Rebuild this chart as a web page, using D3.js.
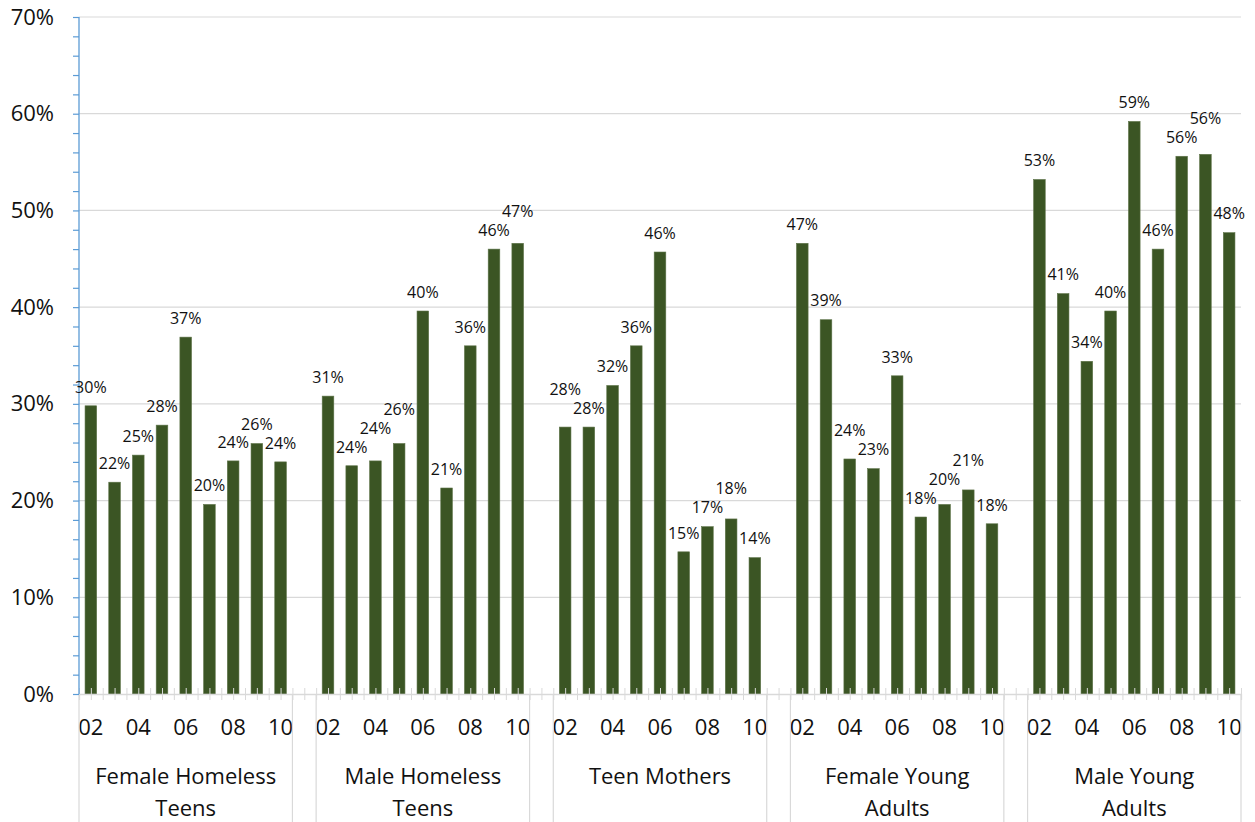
<!DOCTYPE html>
<html>
<head>
<meta charset="utf-8">
<script src="https://cdn.jsdelivr.net/npm/d3@7"></script>
<style>
  html, body { margin: 0; padding: 0; background: #fff; }
  svg { display: block; font-family: "Open Sans", "Noto Sans", sans-serif; }
</style>
</head>
<body>
<svg id="chart" width="1255" height="822"></svg>
<script>
// Year labels (2002–2010) shared by every group
const years = ["02", "03", "04", "05", "06", "07", "08", "09", "10"];

// Group names; "\n" marks the line break in the category label
const groupNames = [
  "Female Homeless\nTeens",
  "Male Homeless\nTeens",
  "Teen Mothers",
  "Female Young\nAdults",
  "Male Young\nAdults"
];

// Share per year, one array per group
const femaleHomelessTeens = [0.298, 0.219, 0.247, 0.278, 0.369, 0.196, 0.241, 0.259, 0.240];
const maleHomelessTeens   = [0.308, 0.236, 0.241, 0.259, 0.396, 0.213, 0.360, 0.460, 0.466];
const teenMothers         = [0.276, 0.276, 0.319, 0.360, 0.457, 0.147, 0.173, 0.181, 0.141];
const femaleYoungAdults   = [0.466, 0.387, 0.243, 0.233, 0.329, 0.183, 0.196, 0.211, 0.176];
const maleYoungAdults     = [0.532, 0.414, 0.344, 0.396, 0.592, 0.460, 0.556, 0.558, 0.477];

const groupValues = [femaleHomelessTeens, maleHomelessTeens, teenMothers, femaleYoungAdults, maleYoungAdults];

// Years that carry a visible tick label
const shownYears = ["02", "04", "06", "08", "10"];

// Value axis ticks: labelled majors every 10%, minor marks every 2%
const yMajorTicks = [0, 0.1, 0.2, 0.3, 0.4, 0.5, 0.6, 0.7];
const yMinorTicks = d3.range(0, 36).map(i => +(i * 0.02).toFixed(2));

// ---- layout ----
const plot = { left: 79, right: 1241, top: 17, bottom: 694 };
const colors = {
  bar: "#3b5524",
  barEdge: "#5d7348",
  grid: "#d9d9d9",
  valueAxis: "#5b9bd5",
  text: "#111"
};

// One slot per year, plus an empty slot between groups
const slots = [];
groupNames.forEach((g, gi) => {
  years.forEach((yr, yi) => {
    slots.push({ key: `${gi}-${yr}`, group: gi, year: yr, value: groupValues[gi][yi] });
  });
  if (gi < groupNames.length - 1) slots.push({ key: `gap-${gi}`, group: null, year: "", value: null });
});

const svg = d3.select("#chart");

const x = d3.scaleBand()
  .domain(slots.map(s => s.key))
  .range([plot.left, plot.right])
  .padding(0);

const y = d3.scaleLinear()
  .domain([0, 0.7])
  .range([plot.bottom, plot.top]);

// Continuous index scale for the category tick marks (every half slot)
const xi = d3.scaleLinear().domain([0, slots.length]).range([plot.left, plot.right]);

// ---- gridlines ----
svg.append("g")
  .selectAll("line")
  .data(yMajorTicks.filter(t => t > 0))
  .join("line")
  .attr("x1", plot.left).attr("x2", plot.right)
  .attr("y1", d => y(d)).attr("y2", d => y(d))
  .attr("stroke", colors.grid).attr("stroke-width", 1.2);

// ---- bars ----
const barW = x.bandwidth() * 0.49;
svg.append("g")
  .selectAll("rect")
  .data(slots.filter(s => s.value !== null))
  .join("rect")
  .attr("x", d => x(d.key) + (x.bandwidth() - barW) / 2)
  .attr("y", d => y(d.value))
  .attr("width", barW)
  .attr("height", d => y(0) - y(d.value))
  .attr("fill", colors.bar)
  .attr("stroke", colors.barEdge)
  .attr("stroke-width", 0.6);

// ---- category axis (ticks every half slot) ----
const xTickAxis = d3.axisBottom(xi)
  .tickValues(d3.range(0, slots.length * 2 + 1).map(i => i / 2))
  .tickSize(6)
  .tickFormat("");
const gxt = svg.append("g")
  .attr("transform", `translate(0,${plot.bottom})`)
  .call(xTickAxis);
gxt.select(".domain").attr("stroke", colors.grid).attr("stroke-width", 1.3);
gxt.selectAll(".tick line").attr("stroke", colors.grid).attr("y1", -6).attr("y2", 6);

// Year labels
const xLabelAxis = d3.axisBottom(x)
  .tickSize(0)
  .tickPadding(25)
  .tickFormat(k => {
    const s = slots.find(d => d.key === k);
    return shownYears.includes(s.year) ? s.year : "";
  });
const gxl = svg.append("g")
  .attr("transform", `translate(0,${plot.bottom})`)
  .call(xLabelAxis);
gxl.select(".domain").remove();
gxl.selectAll("text")
  .attr("font-size", 22)
  .attr("font-family", "Open Sans, Noto Sans, sans-serif")
  .attr("fill", colors.text);

// Group separators and group labels
const groupBounds = [];
groupNames.forEach((g, gi) => {
  const keys = slots.filter(s => s.group === gi).map(s => s.key);
  groupBounds.push({ name: g, x0: x(keys[0]), x1: x(keys[keys.length - 1]) + x.bandwidth() });
});
const sepXs = [];
groupBounds.forEach(b => { sepXs.push(b.x0, b.x1); });

svg.append("g")
  .selectAll("line")
  .data(sepXs)
  .join("line")
  .attr("x1", d => d).attr("x2", d => d)
  .attr("y1", plot.bottom).attr("y2", 822)
  .attr("stroke", colors.grid).attr("stroke-width", 1.2);

const gl = svg.append("g")
  .selectAll("text")
  .data(groupBounds)
  .join("text")
  .attr("x", d => (d.x0 + d.x1) / 2)
  .attr("y", 784)
  .attr("text-anchor", "middle")
  .attr("font-size", 22)
  .attr("fill", colors.text);
gl.each(function (d) {
  d3.select(this).selectAll("tspan")
    .data(d.name.split("\n"))
    .join("tspan")
    .attr("x", (d.x0 + d.x1) / 2)
    .attr("dy", (t, i) => i === 0 ? 0 : 31.5)
    .text(t => t);
});

// ---- value axis ----
const yAxis = d3.axisLeft(y)
  .tickValues(yMinorTicks)
  .tickSize(6)
  .tickPadding(19)
  .tickFormat(d => yMajorTicks.some(t => Math.abs(t - d) < 1e-9) ? d3.format(".0%")(d) : "");
const gy = svg.append("g")
  .attr("transform", `translate(${plot.left},0)`)
  .call(yAxis);
gy.select(".domain").attr("stroke", colors.valueAxis).attr("stroke-width", 1.3)
  .attr("d", `M0,${plot.top}V${plot.bottom}`);
gy.selectAll(".tick line").attr("stroke", colors.valueAxis).attr("stroke-width", 1.2);
gy.selectAll(".tick text")
  .attr("font-size", 22)
  .attr("font-family", "Open Sans, Noto Sans, sans-serif")
  .attr("fill", colors.text);

// ---- data labels (nudged apart when neighbours collide) ----
const fmt = d3.format(".0%");
const labelGap = 19, minSep = 17;
groupValues.forEach((vals, gi) => {
  const items = vals.map((v, i) => ({ key: `${gi}-${years[i]}`, value: v, cy: y(v) - labelGap }));
  for (let i = 1; i < items.length; i++) {
    const a = items[i - 1], b = items[i];
    if (Math.abs(a.cy - b.cy) < minSep) {
      if (b.cy < a.cy) b.cy = a.cy - labelGap;
      else a.cy = b.cy - labelGap;
    }
  }
  svg.append("g")
    .selectAll("text")
    .data(items)
    .join("text")
    .attr("x", d => x(d.key) + x.bandwidth() / 2)
    .attr("y", d => d.cy)
    .attr("dy", "0.36em")
    .attr("text-anchor", "middle")
    .attr("font-size", 16)
    .attr("fill", colors.text)
    .text(d => fmt(d.value));
});
</script>
</body>
</html>
